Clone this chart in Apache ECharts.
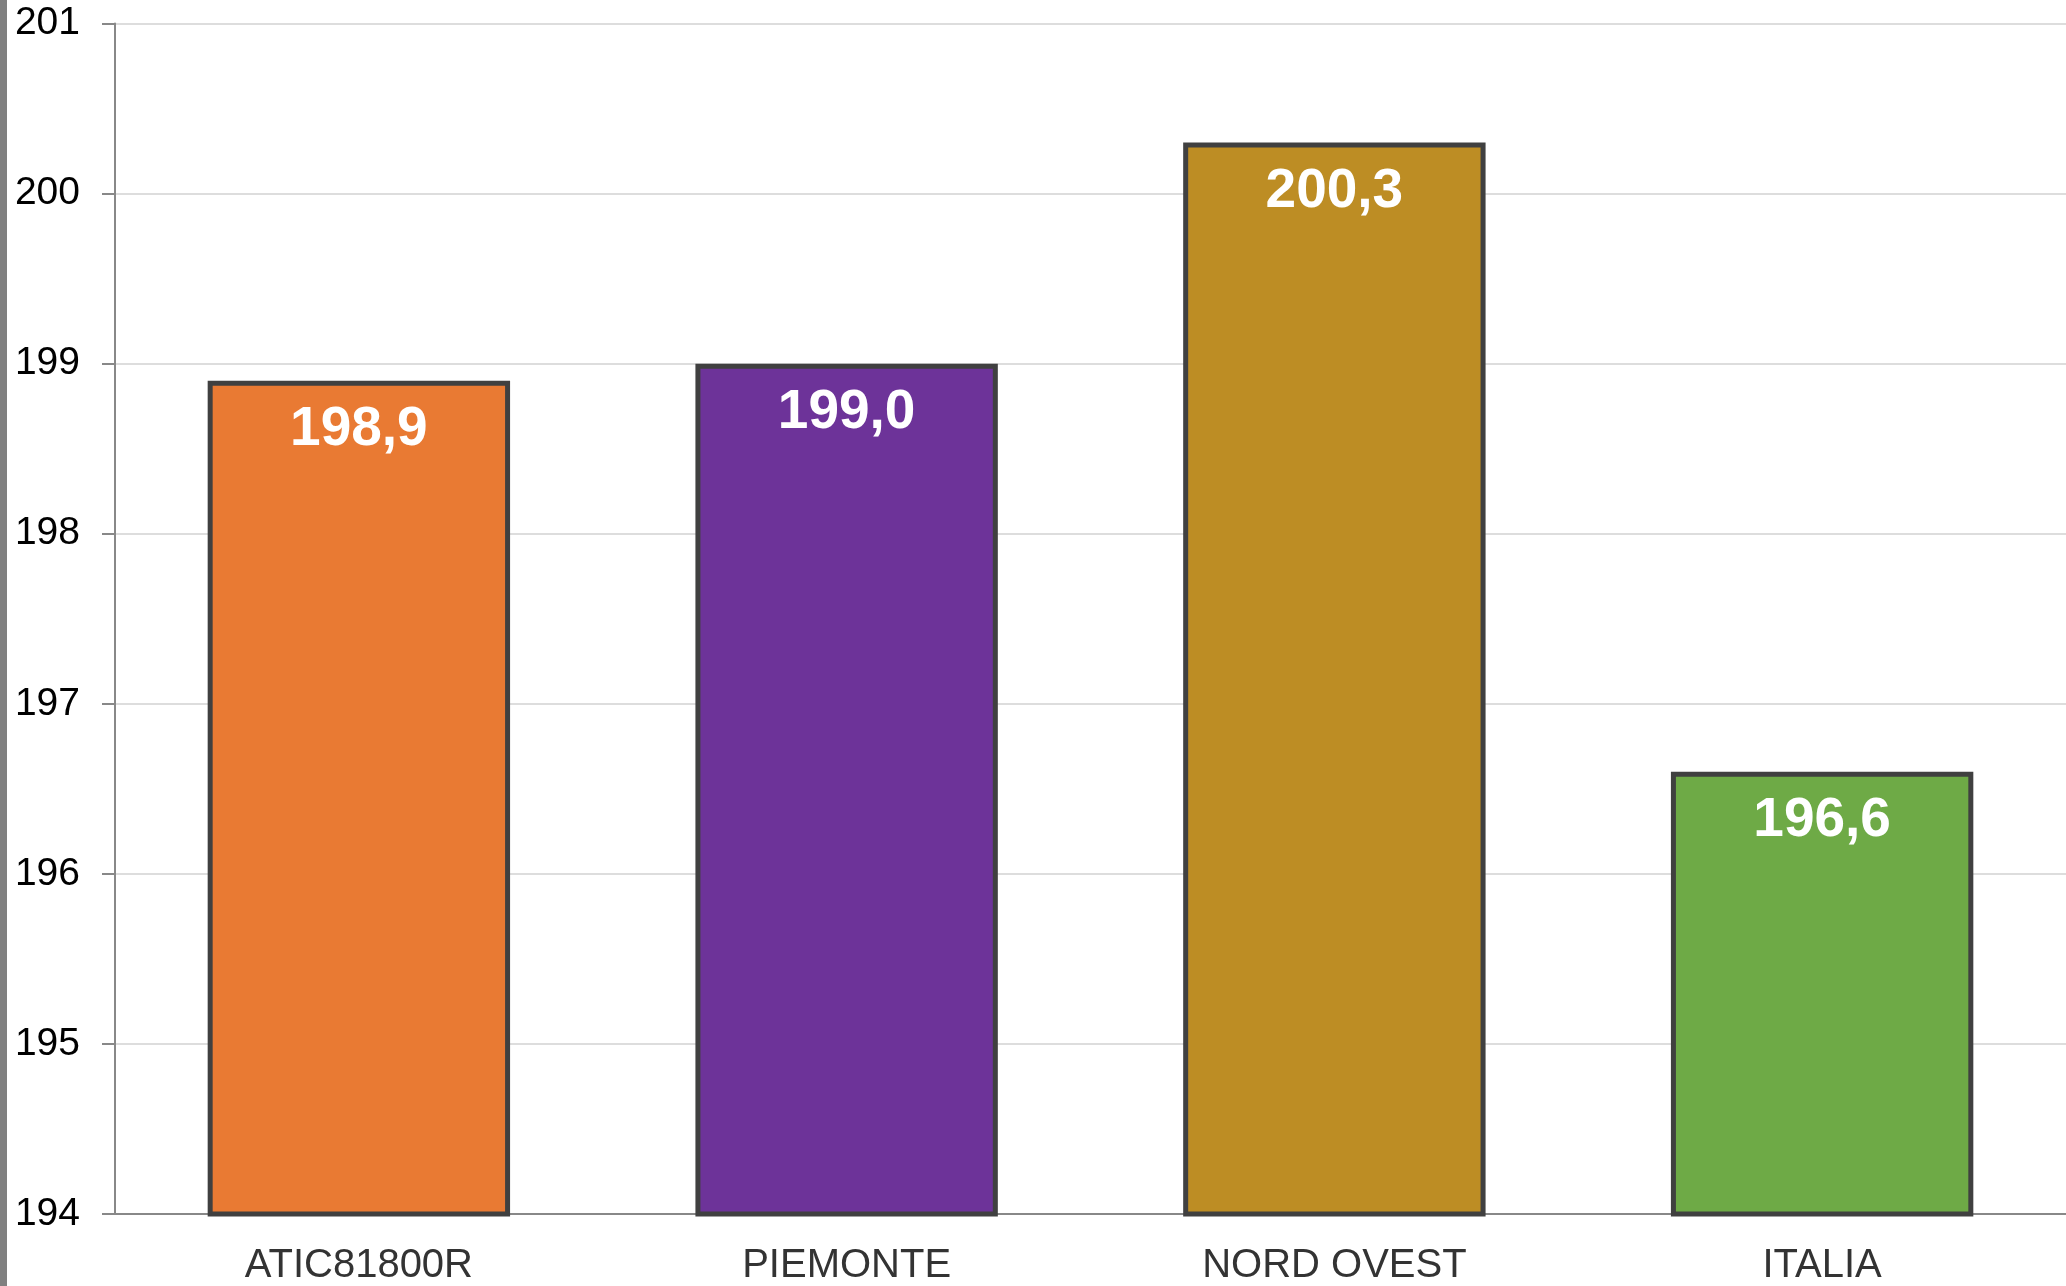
<!DOCTYPE html>
<html>
<head>
<meta charset="utf-8">
<script src="https://cdn.jsdelivr.net/npm/echarts@6/dist/echarts.min.js"></script>
<style>
  html, body { margin: 0; padding: 0; background: #fff; }
  #chart {
    width: 2059px;
    height: 1286px;
    border-left: 7px solid #808080;
  }
</style>
</head>
<body>
<div id="chart"></div>
<script>
  let categories = ['ATIC81800R', 'PIEMONTE', 'NORD OVEST', 'ITALIA'];
  let values = [198.9, 199.0, 200.3, 196.6];
  let barColors = ['#E97A33', '#6D3399', '#BD8D24', '#6EAA46'];

  let chart = echarts.init(document.getElementById('chart'));

  let option = {
    animation: false,
    grid: {
      left: 108,
      right: 0,
      top: 23,
      bottom: 70
    },
    xAxis: {
      type: 'category',
      data: categories,
      axisTick: { show: false },
      axisLine: {
        lineStyle: { color: '#888', width: 2 }
      },
      axisLabel: {
        margin: 32,
        color: '#333',
        fontFamily: 'Liberation Sans',
        fontSize: 40
      }
    },
    yAxis: {
      type: 'value',
      min: 194,
      max: 201,
      interval: 1,
      axisLine: {
        show: true,
        lineStyle: { color: '#888', width: 2 }
      },
      axisTick: {
        show: true,
        length: 13,
        lineStyle: { color: '#888', width: 2 }
      },
      splitLine: {
        lineStyle: { color: '#ddd', width: 2 }
      },
      axisLabel: {
        margin: 35,
        color: '#000',
        fontFamily: 'Liberation Sans',
        fontSize: 39,
        verticalAlign: 'middle',
        lineHeight: 39,
        padding: [8, 0, 0, 0]
      }
    },
    series: [{
      type: 'bar',
      barCategoryGap: '38%',
      data: values.map(function (v, i) {
        return {
          value: v,
          itemStyle: { color: barColors[i] }
        };
      }),
      itemStyle: {
        borderColor: '#404040',
        borderWidth: 5
      },
      label: {
        show: true,
        position: 'insideTop',
        distance: 22,
        color: '#fff',
        fontFamily: 'Liberation Sans',
        fontWeight: 'bold',
        fontSize: 55,
        formatter: function (p) {
          return p.value.toFixed(1).replace('.', ',');
        }
      }
    }]
  };
  chart.setOption(option);
</script>
</body>
</html>
